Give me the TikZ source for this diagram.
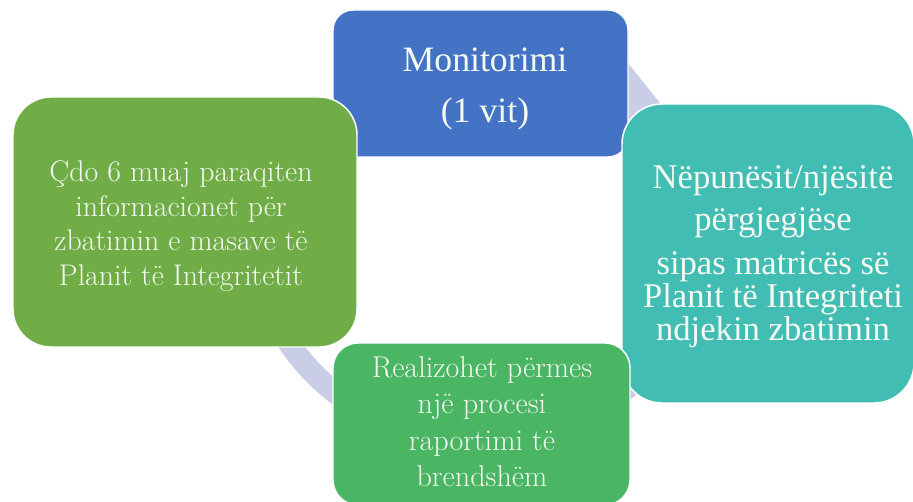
\documentclass[tikz,border=0pt]{standalone}
\usepackage{fontspec}
\setmainfont{Liberation Serif}
\newfontfamily\fLF{LiberationSerif-Regular.ttf}
\newfontfamily\fLM{Latin Modern Roman}
\definecolor{cblue}{HTML}{4472C4}
\definecolor{cteal}{HTML}{42BDB4}
\definecolor{cgreenL}{HTML}{70AD47}
\definecolor{cgreenB}{HTML}{4AB563}
\definecolor{cring}{HTML}{CACDE6}
\definecolor{ctext}{HTML}{F4F9F2}
\begin{document}
\begin{tikzpicture}[x=0.75pt,y=-0.75pt,
  box/.style={draw=white, line width=1.1pt, outer sep=0pt, inner sep=0pt, rectangle},
  txt/.style={text=ctext, align=center, inner sep=0pt, outer sep=0pt},
  ringband/.style={draw=cring, line width=16.5pt}]
\useasboundingbox (0,0) rectangle (913,502);
% background cycle arcs
\draw[ringband] (470,220) ++(160:219) arc[start angle=160, end angle=110, radius=219];
\draw[ringband, line width=12pt] (470,220) ++(40:233) arc[start angle=40, end angle=56, radius=233];
\fill[cring] (620,53) -- (680,128) -- (610,140) -- cycle;
% boxes
\node[box, fill=cblue, minimum width=221.25pt, minimum height=110.25pt, rounded corners=15pt] (b1) at (480.5,83.5) {};
\node[box, fill=cteal, minimum width=219pt, minimum height=224.25pt, rounded corners=30pt] (b2) at (768,253.5) {};
\node[box, fill=cgreenB, minimum width=222.75pt, minimum height=121.5pt, rounded corners=18.75pt] (b3) at (481.5,424) {};
\node[box, fill=cgreenL, minimum width=258pt, minimum height=187.5pt, rounded corners=28.5pt] (b4) at (185,222) {};
% texts
\node[txt, font=\fontsize{26.8}{38}\selectfont] (t1) at (485,89) {Monitorimi\\(1 vit)};
\node[txt, font=\fLF\fontsize{26}{24.75}\selectfont] (t2) at (773,257) {Nëpunësit/njësitë\\[6.5pt]përgjegjëse\\[8.25pt]sipas matricës së\\Planit të Integriteti\\ndjekin zbatimin};
\node[txt, font=\fLM\fontsize{22.6}{27.4}\selectfont] (t3) at (482,421.5) {Realizohet përmes\\një procesi\\raportimi të\\brendshëm};
\node[txt, font=\fLM\fontsize{22.4}{25.9}\selectfont] (t4) at (181,226) {Çdo 6 muaj paraqiten\\informacionet për\\zbatimin e masave të\\Planit të Integritetit};
\end{tikzpicture}
\end{document}
